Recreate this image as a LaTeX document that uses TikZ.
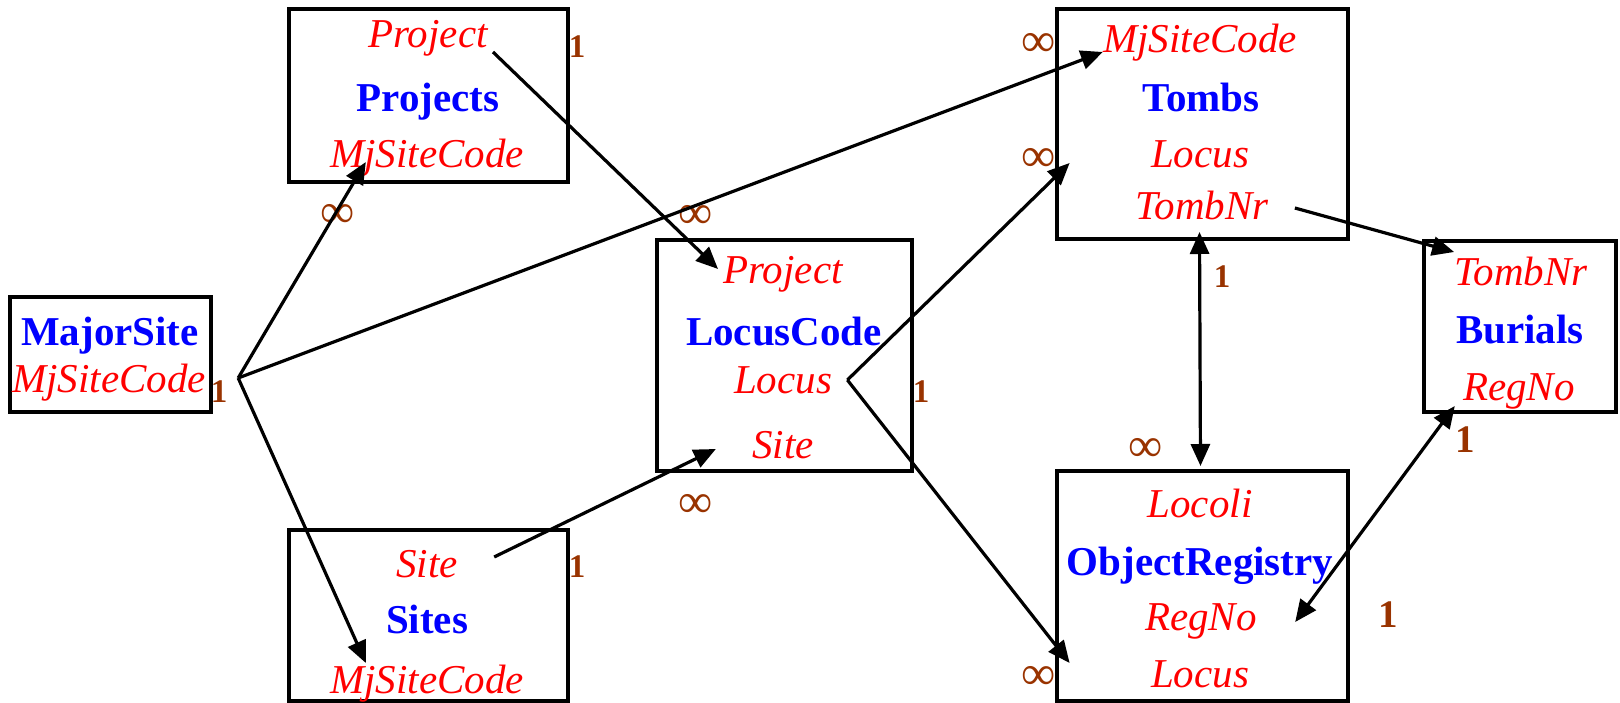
\documentclass[tikz,border=0pt]{standalone}
\usepackage{fontspec}
\setmainfont{Liberation Serif}
\usepackage{xcolor}
\usetikzlibrary{calc,arrows.meta}
\definecolor{ttlblue}{HTML}{0000FF}
\definecolor{fieldred}{HTML}{FF0000}
\definecolor{cardbrown}{HTML}{993300}
\tikzset{
  tbl/.style={draw=black, line width=2bp, inner sep=0pt},
  link/.style={draw=black, line width=1.6bp, -{Triangle[length=11bp,width=9.5bp]}},
  twoway/.style={draw=black, line width=1.6bp, {Triangle[length=11bp,width=9.5bp]}-{Triangle[length=11bp,width=9.5bp]}},
  tname/.style={text=ttlblue, font=\fontsize{20.5bp}{24bp}\selectfont\bfseries, anchor=base, inner sep=0pt},
  fld/.style={text=fieldred, font=\fontsize{20.5bp}{24bp}\selectfont\itshape, anchor=base, inner sep=0pt},
  one/.style={text=cardbrown, font=\fontsize{16.5bp}{18bp}\selectfont\bfseries, inner sep=0pt},
  onebig/.style={text=cardbrown, font=\fontsize{19.5bp}{22bp}\selectfont\bfseries, inner sep=0pt},
  many/.style={text=cardbrown, font=\fontsize{24bp}{24bp}\selectfont, inner sep=0pt},
}
\begin{document}
\begin{tikzpicture}[x=0.5bp, y=-0.5bp]
  \useasboundingbox (0,0) rectangle (1620,703);
  % tables
  \node[tbl, minimum width=100.5bp, minimum height=57.5bp] (majorsite) at (110.5,354.5) {};
  \node[tbl, minimum width=139.5bp, minimum height=86.5bp] (projects) at (428.5,95.5) {};
  \node[tbl, minimum width=139.5bp, minimum height=85.5bp] (sites) at (428.5,615.5) {};
  \node[tbl, minimum width=127.5bp, minimum height=115.5bp] (locuscode) at (784.5,355.5) {};
  \node[tbl, minimum width=145.5bp, minimum height=115bp] (tombs) at (1202.5,124) {};
  \node[tbl, minimum width=96bp, minimum height=85.5bp] (burials) at (1520,326.5) {};
  \node[tbl, minimum width=145.5bp, minimum height=115bp] (objreg) at (1202.5,586) {};
  % fields
  \node[tname] (msName) at (110,345) {MajorSite};
  \node[fld] (msMj) at (109,392) {MjSiteCode};
  \node[fld] (prProject) at (428,48) {Project};
  \node[tname] (prName) at (428,112) {Projects};
  \node[fld] (prMj) at (427,167) {MjSiteCode};
  \node[fld] (stSite) at (427,577) {Site};
  \node[tname] (stName) at (427,633) {Sites};
  \node[fld] (stMj) at (427,693) {MjSiteCode};
  \node[fld] (lcProject) at (783,283) {Project};
  \node[tname] (lcName) at (784,345) {LocusCode};
  \node[fld] (lcLocus) at (783,393) {Locus};
  \node[fld] (lcSite) at (783,458) {Site};
  \node[fld] (tbMj) at (1200,53) {MjSiteCode};
  \node[tname] (tbName) at (1201,112) {Tombs};
  \node[fld] (tbLocus) at (1200,167) {Locus};
  \node[fld] (tbNr) at (1202,220) {TombNr};
  \node[fld] (buNr) at (1521,285) {TombNr};
  \node[tname] (buName) at (1520,343) {Burials};
  \node[fld] (buReg) at (1519,400) {RegNo};
  \node[fld] (orLocoli) at (1200,517) {Locoli};
  \node[tname] (orName) at (1200,575) {ObjectRegistry};
  \node[fld] (orReg) at (1201,630) {RegNo};
  \node[fld] (orLocus) at (1200,687) {Locus};
  % cardinalities
  \node[one] (msOne) at (219,392) {1};
  \node[one] (prOne) at (577,47) {1};
  \node[many] (prMany) at (338,216) {∞};
  \node[one] (stOne) at (577,567) {1};
  \node[many] (lcManyTop) at (696,217) {∞};
  \node[many] (lcManyBot) at (696,506) {∞};
  \node[one] (lcOne) at (921,392) {1};
  \node[many] (tbManyTop) at (1039,45) {∞};
  \node[many] (tbManyMid) at (1039,160) {∞};
  \node[one] (tbOne) at (1222,277) {1};
  \node[onebig] (buOne) at (1465,440) {1};
  \node[many] (orManyTop) at (1146,450) {∞};
  \node[many] (orManyBot) at (1039,678) {∞};
  \node[onebig] (orOne) at (1388,615) {1};
  % links
  \coordinate (msFan) at ($(msMj.base east)+(32,-14)$);
  \draw[link] (msFan) -- ($(prMj.base west)+(36,-5)$);
  \draw[link] (msFan) -- ($(tbMj.base west)+(0,-1)$);
  \draw[link] (msFan) -- ($(stMj.base west)+(36,-30)$);
  \draw[link] ($(prProject.base east)+(5,4)$) -- ($(lcProject.base west)+(-5,-14)$);
  \draw[link] ($(stSite.base east)+(36,-20)$) -- ($(lcSite.base west)+(-36,-9)$);
  \coordinate (lcFan) at ($(lcLocus.base east)+(15,-13)$);
  \draw[link] (lcFan) -- ($(tbLocus.base west)+(-81,-4)$);
  \draw[link] (lcFan) -- ($(orLocus.base west)+(-81,-24)$);
  \draw[link] ($(tbNr.base east)+(26,-12)$) -- ($(buNr.base west)+(0,-33)$);
  \draw[twoway] ($(tombs.south)+(-3,-9)$) -- ($(objreg.north)+(-2,-3)$);
  \draw[twoway] ($(orReg.base east)+(38,-8)$) -- ($(buReg.base west)+(-8,6)$);
\end{tikzpicture}
\end{document}
